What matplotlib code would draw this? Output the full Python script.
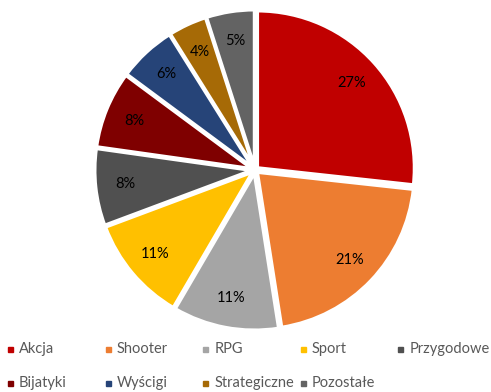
import matplotlib.pyplot as plt

labels = ['Akcja', 'Shooter', 'RPG', 'Sport', 'Przygodowe',
          'Bijatyki', 'Wyścigi', 'Strategiczne', 'Pozostałe']
shares = [27, 21, 11, 11, 8, 8, 6, 4, 5]
colors = ['#C00000', '#ED7D31', '#A5A5A5', '#FFC000', '#505050',
          '#7F0000', '#264478', '#A66A06', '#636363']

plt.rcParams['font.family'] = ['Lato', 'DejaVu Sans']

fig = plt.figure(figsize=(4.91, 3.92), dpi=100)
W, H = 491, 392
cx, cy, half = 255, 170, 165
ax = fig.add_axes([(cx - half) / W, (H - cy - half) / H, 2 * half / W, 2 * half / H])

total = sum(shares)
wedges, texts, autotexts = ax.pie(
    shares, colors=colors, startangle=90, counterclock=False,
    explode=[0.02] * len(shares),
    wedgeprops=dict(edgecolor='white', linewidth=2.5),
    autopct=lambda p: '%d%%' % round(p * total / 100), pctdistance=0.81,
    textprops=dict(fontsize=10.5, color='black'))
ax.set_xlim(-1.05, 1.05)
ax.set_ylim(-1.05, 1.05)
ax.axis('off')

# legend laid out as a 5-column grid under the pie
for i, (lab, col) in enumerate(zip(labels, colors)):
    r, c = divmod(i, 5)
    x = 10.5 + c * 97.6
    y = 349 + r * 34
    fig.patches.append(plt.Rectangle(((x - 2.5) / W, (H - y - 2.5) / H), 5 / W, 5 / H,
                                     transform=fig.transFigure, color=col))
    fig.text((x + 8.5) / W, (H - y) / H, lab, fontsize=10.5, color='#595959',
             ha='left', va='center')

fig.savefig('out.png', dpi=100)
